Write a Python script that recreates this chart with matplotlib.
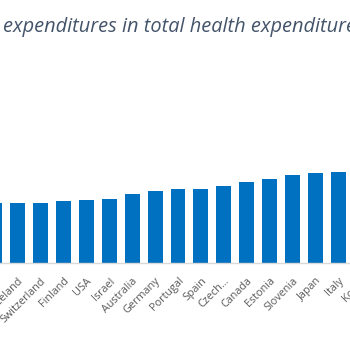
import matplotlib.pyplot as plt

# share of pharmaceutical spending in total health spending (%)
paises = ["Norway", "Iceland", "Switzerland", "Finland", "USA", "Israel", "Australia",
          "Germany", "Portugal", "Spain", "Czech...", "Canada", "Estonia", "Slovenia",
          "Japan", "Italy", "Korea"]
valores = [11.9, 11.9, 11.9, 12.4, 12.5, 12.7, 13.8, 14.4, 14.8, 14.8, 15.3, 16.2,
           16.7, 17.5, 17.9, 18.2, 19.0]

titulo_visivel = "expenditures in total health expenditure"

fig = plt.figure(figsize=(3.5, 3.5), dpi=100)
# the chart is cropped: axes run past both figure edges
ax = fig.add_axes([-0.0483, 0.2486, 1.1137, 0.2857])

x = list(range(len(paises)))
ax.bar(x, valores, width=0.65, color="#0070C0", edgecolor="none", zorder=2)
ax.set_xlim(-0.5, len(paises) - 0.5)
ax.set_ylim(0, 20)

for lado in ["top", "left", "right"]:
    ax.spines[lado].set_visible(False)
ax.spines["bottom"].set_color("#D9D9D9")
ax.spines["bottom"].set_linewidth(1.0)
ax.set_yticks([])
ax.set_xticks(x)
ax.set_xticklabels(paises, rotation=45, ha="right", rotation_mode="anchor",
                   fontsize=7.8, color="#595959", family="Open Sans")
ax.tick_params(axis="x", length=0, pad=9)

# only the end of the title is inside the crop
fig.text(3 / 350, 1 - 27 / 350, titulo_visivel, ha="left", va="center",
         fontsize=14.4, style="italic", color="#44546A", family="Open Sans")

fig.savefig("out.png", dpi=100)
